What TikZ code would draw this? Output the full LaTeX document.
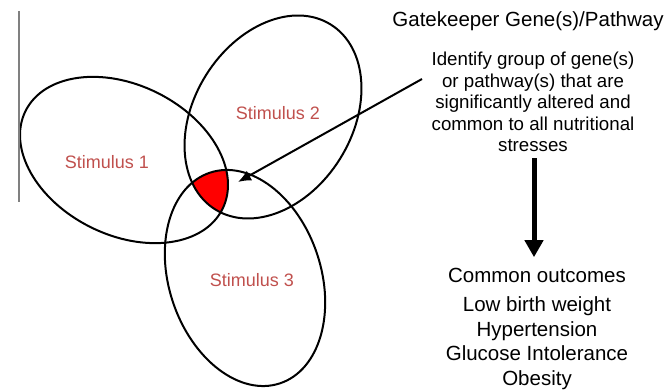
\documentclass[tikz,border=0pt]{standalone}
\usepackage{fontspec}
\setmainfont{Liberation Sans}
\usetikzlibrary{arrows.meta}
\definecolor{stimred}{RGB}{192,80,77}

\begin{document}
\begin{tikzpicture}[x=1pt,y=1pt,
    stim/.style={text=stimred,font=\fontsize{18}{21}\selectfont},
    heading/.style={font=\fontsize{20.5}{24.5}\selectfont,align=center},
    desc/.style={font=\fontsize{18.7}{21.5}\selectfont,align=center}]
    \useasboundingbox (0,0) rectangle (666,390);

    % Common core of the three stimuli
    \begin{scope}
        \clip[rotate around={-26.5:(124,230)}] (124,230) ellipse [x radius=110,y radius=75];
        \clip[rotate around={58:(273,273)}] (273,273) ellipse [x radius=109,y radius=79];
        \fill[red,rotate around={108.4:(245,112)}] (245,112) ellipse [x radius=111,y radius=76];
    \end{scope}

    % Stimuli
    \draw[line width=2pt,rotate around={-26.5:(124,230)}] (124,230) ellipse [x radius=110,y radius=75];
    \draw[line width=2pt,rotate around={58:(273,273)}] (273,273) ellipse [x radius=109,y radius=79];
    \draw[line width=2pt,rotate around={108.4:(245,112)}] (245,112) ellipse [x radius=111,y radius=76];
    \draw[gray,line width=1.3pt] (19,379) -- (19,188);

    \node[stim] (S1) at (107,228) {Stimulus 1};
    \node[stim] (S2) at (278,277) {Stimulus 2};
    \node[stim] (S3) at (252,110) {Stimulus 3};
    \coordinate (core) at (238,208);

    \node[heading] (Gk) at (528,369) {Gatekeeper Gene(s)/Pathway};
    \node[desc] (Id) at (533,288) {Identify group of gene(s)\\or pathway(s) that are\\significantly altered and\\common to all nutritional\\stresses};
    \coordinate (tail) at (422,311);
    \node[heading] (Out) at (537,115) {Common outcomes};
    \node[heading] (List) at (537,47) {Low birth weight\\Hypertension\\Glucose Intolerance\\Obesity};

    % Arrows
    \draw[line width=2pt,-{Latex[length=13pt,width=11pt]}] (tail) -- (core);
    \draw[line width=5pt,-{Triangle[length=17pt,width=18pt]},shorten <=3pt,shorten >=7pt] (Id.south -| 534,0) -- (Out.north -| 534,0);
\end{tikzpicture}
\end{document}
